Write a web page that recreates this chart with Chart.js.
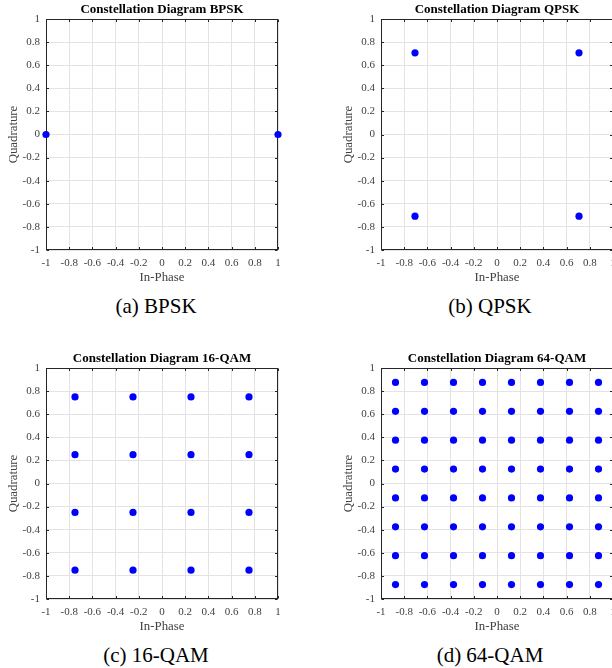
<!DOCTYPE html>
<html>
<head>
<meta charset="utf-8">
<script src="https://cdn.jsdelivr.net/npm/chart.js@4.4.1/dist/chart.umd.min.js"></script>
<style>
  html, body { margin: 0; padding: 0; background: #fff; width: 612px; height: 668px; overflow: hidden; position: relative; }
  .box { position: absolute; }
  .cap { position: absolute; font-family: "Liberation Serif", "Times New Roman", serif; font-size: 21px; color: #000; transform: translate(-50%, -50%); white-space: nowrap; }
</style>
</head>
<body>
<div class="box" style="left:0px;top:0px;width:306px;height:284px;"><canvas id="c1"></canvas></div>
<div class="box" style="left:306px;top:0px;width:334px;height:284px;"><canvas id="c2"></canvas></div>
<div class="box" style="left:0px;top:349px;width:306px;height:284px;"><canvas id="c3"></canvas></div>
<div class="box" style="left:306px;top:349px;width:334px;height:284px;"><canvas id="c4"></canvas></div>
<div class="cap" style="left:156px;top:306px;">(a) BPSK</div>
<div class="cap" style="left:490px;top:306px;">(b) QPSK</div>
<div class="cap" style="left:156px;top:655px;">(c) 16-QAM</div>
<div class="cap" style="left:490px;top:655px;">(d) 64-QAM</div>
<script>
// ---- data ----
const tickValues = [-1, -0.8, -0.6, -0.4, -0.2, 0, 0.2, 0.4, 0.6, 0.8, 1];
const tickLabels = ['-1', '-0.8', '-0.6', '-0.4', '-0.2', '0', '0.2', '0.4', '0.6', '0.8', '1'];

const bpskI = [-1, 1];
const bpskQ = [0, 0];

const qpskI = [0.707, -0.707, -0.707, 0.707];
const qpskQ = [0.707, 0.707, -0.707, -0.707];

const qam16Levels = [-0.75, -0.25, 0.25, 0.75];
const qam64Levels = [-0.875, -0.625, -0.375, -0.125, 0.125, 0.375, 0.625, 0.875];

const titles = ['Constellation Diagram BPSK', 'Constellation Diagram QPSK', 'Constellation Diagram 16-QAM', 'Constellation Diagram 64-QAM'];

// ---- build point tables ----
function pairs(I, Q) { return I.map((v, i) => ({ x: v, y: Q[i] })); }
function grid(levels) {
  const pts = [];
  levels.forEach(q => levels.forEach(i => pts.push({ x: i, y: q })));
  return pts;
}

const FONT = '"Liberation Serif", "Times New Roman", serif';
const TICK_COLOR = '#404040';
const AXIS_COLOR = '#262626';
const GRID_COLOR = '#e3e3e3';

const framePlugin = {
  id: 'frame',
  beforeDatasetsDraw(chart) {
    const { ctx, chartArea: a, scales } = chart;
    const l = Math.round(a.left) + 0.5, r = Math.round(a.right) - 0.5;
    const t = Math.round(a.top) + 0.5, b = Math.round(a.bottom) - 0.5;
    ctx.save();
    ctx.strokeStyle = AXIS_COLOR;
    ctx.lineWidth = 1;
    ctx.strokeRect(l, t, r - l, b - t);
    const tl = 2.5;
    ctx.beginPath();
    scales.x.ticks.forEach(tk => {
      const px = Math.round(scales.x.getPixelForValue(tk.value)) + 0.5;
      ctx.moveTo(px, b); ctx.lineTo(px, b - tl);
      ctx.moveTo(px, t); ctx.lineTo(px, t + tl);
    });
    scales.y.ticks.forEach(tk => {
      const py = Math.round(scales.y.getPixelForValue(tk.value)) + 0.5;
      ctx.moveTo(l, py); ctx.lineTo(l + tl, py);
      ctx.moveTo(r, py); ctx.lineTo(r - tl, py);
    });
    ctx.stroke();
    ctx.restore();
  }
};

function axis(isX) {
  return {
    type: 'linear',
    min: -1, max: 1,
    afterBuildTicks: (s) => { s.ticks = tickValues.map(v => ({ value: v })); },
    afterFit: (s) => { if (isX) s.height = 34; else s.width = 46; },
    ticks: {
      autoSkip: false, maxRotation: 0, minRotation: 0,
      padding: isX ? 6.5 : 6,
      color: TICK_COLOR,
      font: { family: FONT, size: 11 },
      callback: (v, i) => tickLabels[i]
    },
    grid: { color: GRID_COLOR, lineWidth: 1, drawTicks: false },
    border: { display: false },
    title: {
      display: true,
      text: isX ? 'In-Phase' : 'Quadrature',
      color: TICK_COLOR,
      font: { family: FONT, size: 12.8 },
      padding: isX ? { top: 0, bottom: -1 } : { top: 6, bottom: 0 }
    }
  };
}

function makeChart(id, points, title, padLeft, padRight) {
  return new Chart(document.getElementById(id), {
    type: 'scatter',
    data: {
      datasets: [{
        data: points,
        backgroundColor: '#0000ff',
        borderWidth: 0,
        pointRadius: 3.6,
        pointHoverRadius: 3.6,
        clip: false
      }]
    },
    options: {
      responsive: true,
      maintainAspectRatio: false,
      animation: false,
      events: [],
      layout: { padding: { left: padLeft, right: padRight, top: 0, bottom: 0 } },
      plugins: {
        legend: { display: false },
        tooltip: { enabled: false },
        title: {
          display: true,
          text: title,
          fullSize: false,
          color: '#000',
          font: { family: FONT, size: 13, weight: 'bold' },
          padding: { top: 1.5, bottom: 1.9 }
        }
      },
      scales: { x: axis(true), y: axis(false) }
    },
    plugins: [framePlugin]
  });
}

makeChart('c1', pairs(bpskI, bpskQ), titles[0], 0, 28);
makeChart('c2', pairs(qpskI, qpskQ), titles[1], 29, 27);
makeChart('c3', grid(qam16Levels), titles[2], 0, 28);
makeChart('c4', grid(qam64Levels), titles[3], 29, 27);
</script>
</body>
</html>
